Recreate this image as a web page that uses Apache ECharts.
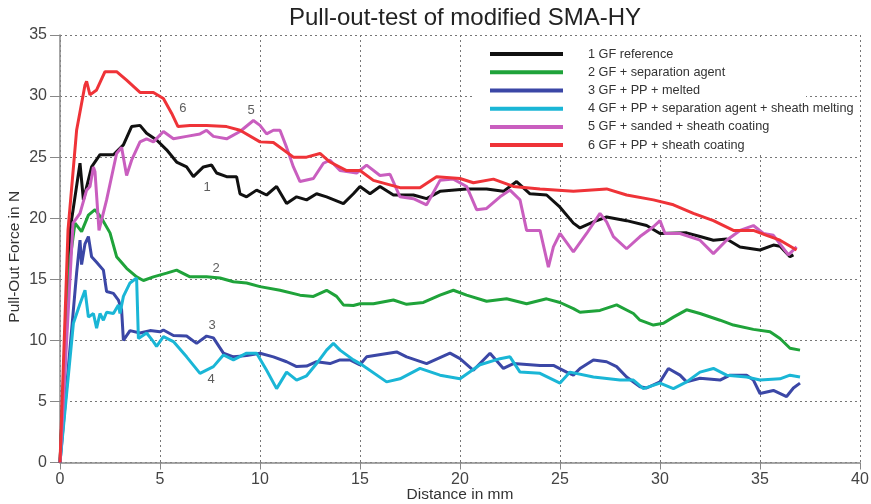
<!DOCTYPE html>
<html>
<head>
<meta charset="utf-8">
<script src="https://cdn.jsdelivr.net/npm/echarts@6/dist/echarts.min.js"></script>
<style>
  html, body { margin: 0; padding: 0; background: #fff; }
  #chart { width: 871px; height: 504px; }
</style>
</head>
<body>
<div id="chart"></div>
<script>
// series names (legend order)
var names = [
  "1 GF reference",
  "2 GF + separation agent",
  "3 GF + PP + melted",
  "4 GF + PP + separation agent + sheath melting",
  "5 GF + sanded + sheath coating",
  "6 GF + PP + sheath coating"
];
var colors = ["#111111", "#1fa33a", "#3b47a6", "#1ab6d6", "#c95ebf", "#ef3338"];

// [distance mm, force N]
var s1 = [[0,0],[0.5,19],[1.0,24.5],[1.17,21.5],[1.58,24.2],[2.0,25.2],[2.67,25.2],[3.17,26.0],[3.58,27.5],[4.0,27.6],
  [4.33,26.95],[4.83,26.4],[5.33,25.6],[5.83,24.6],[6.33,24.2],[6.67,23.4],[7.17,24.2],[7.58,24.35],[7.83,23.7],[8.33,23.4],
  [8.83,23.4],[9.0,22.0],[9.33,21.75],[9.83,22.3],[10.33,21.9],[10.83,22.6],[11.33,21.2],[11.83,21.75],[12.33,21.5],[12.83,22.0],
  [13.33,21.75],[14.17,21.2],[14.67,22.0],[15.0,22.6],[15.5,22.0],[16.0,22.6],[16.67,21.9],[17.67,21.9],[18.33,21.6],[19.0,22.2],
  [20.33,22.4],[21.33,22.4],[22.17,22.2],[22.83,23.0],[23.5,22.0],[24.33,21.9],[25.0,20.9],[25.67,19.6],[26.0,19.2],[26.67,19.7],
  [27.33,20.1],[28.33,19.8],[29.33,19.4],[30.0,18.75],[31.33,18.8],[32.0,18.5],[32.67,18.2],[33.33,18.3],[34.0,17.65],[35.0,17.4],
  [35.67,17.8],[36.0,17.7],[36.5,16.85],[36.67,17.0]];
var s2 = [[0,0],[0.5,16.6],[0.75,19.6],[1.08,18.9],[1.42,20.25],[1.75,20.7],[2.08,20.0],[2.5,18.8],[2.83,16.85],[3.33,15.9],
  [3.83,15.2],[4.17,14.9],[4.67,15.2],[5.33,15.5],[5.83,15.75],[6.5,15.2],[7.33,15.2],[8.0,15.1],[8.67,14.8],[9.33,14.7],
  [10.0,14.4],[11.0,14.1],[12.0,13.7],[12.67,13.6],[13.33,14.1],[13.83,13.6],[14.17,12.9],[14.67,12.85],[15.0,13.0],[15.67,13.0],
  [16.67,13.3],[17.33,12.95],[18.17,13.1],[19.0,13.7],[19.67,14.1],[20.33,13.7],[21.33,13.2],[22.33,13.4],[23.33,13.0],[24.33,13.4],
  [25.0,13.1],[25.67,12.6],[26.0,12.3],[27.0,12.45],[27.83,12.9],[28.67,12.2],[29.0,11.65],[29.67,11.25],[30.17,11.4],[30.67,11.9],
  [31.33,12.5],[32.0,12.2],[33.0,11.65],[33.67,11.25],[34.67,10.9],[35.5,10.7],[36.0,10.15],[36.5,9.35],[37.0,9.2]];
var s3 = [[0,0],[0.83,15.5],[1.0,18.2],[1.08,16.2],[1.25,17.9],[1.42,18.5],[1.58,16.85],[1.83,16.4],[2.17,15.75],[2.33,14.0],
  [2.67,13.85],[2.92,13.3],[3.08,12.5],[3.17,10.0],[3.5,10.8],[4.0,10.6],[4.5,10.8],[5.0,10.7],[5.17,10.85],[5.67,10.4],
  [6.33,10.35],[6.83,9.75],[7.33,10.35],[7.67,10.2],[8.17,8.95],[8.67,8.65],[9.33,8.75],[10.0,8.95],[10.67,8.65],[11.33,8.25],
  [11.83,7.85],[12.33,7.9],[12.83,8.25],[13.5,8.1],[14.0,8.4],[14.5,8.4],[15.0,8.0],[15.33,8.65],[16.83,9.05],[17.33,8.65],
  [18.33,8.1],[19.5,8.95],[20.0,8.5],[20.67,7.55],[21.5,8.95],[22.17,7.7],[22.67,8.1],[24.0,7.95],[24.67,7.95],[25.33,7.4],
  [25.67,7.15],[26.0,7.7],[26.67,8.4],[27.33,8.25],[27.83,7.85],[28.33,7.0],[29.0,6.2],[29.33,6.1],[30.0,6.6],[30.42,7.7],
  [31.0,7.15],[31.33,6.6],[32.0,6.9],[33.0,6.75],[33.5,7.15],[34.33,7.15],[34.67,6.75],[35.0,5.65],[35.67,5.9],[36.33,5.4],
  [36.67,6.1],[37.0,6.5]];
var s4 = [[0,0],[0.67,11.4],[1.0,13.0],[1.25,14.1],[1.42,11.9],[1.67,12.2],[1.83,11.0],[2.0,12.2],[2.17,11.65],[2.33,12.3],
  [2.67,12.2],[2.92,12.9],[3.0,12.2],[3.17,13.6],[3.5,14.7],[3.83,15.1],[3.92,10.15],[4.33,10.6],[4.67,9.9],[4.83,9.5],
  [5.17,10.3],[5.67,9.9],[6.33,8.65],[7.0,7.3],[7.67,7.85],[8.17,8.8],[8.67,8.4],[9.33,8.95],[9.83,8.95],[10.33,7.55],
  [10.83,6.05],[11.33,7.4],[11.83,6.75],[12.33,7.1],[12.83,8.1],[13.33,9.2],[13.67,9.75],[14.0,9.2],[14.67,8.4],[15.0,8.1],
  [16.33,6.6],[17.0,6.85],[18.0,7.7],[19.0,7.15],[20.0,6.85],[21.0,8.0],[22.0,8.5],[22.5,8.65],[23.0,7.4],[24.0,7.3],
  [25.0,6.5],[25.5,7.4],[26.67,7.0],[28.0,6.75],[28.67,6.75],[29.17,6.05],[30.0,6.5],[30.67,6.05],[31.33,6.6],[32.0,7.4],
  [32.67,7.7],[33.33,7.15],[34.33,7.0],[35.0,6.75],[36.0,6.85],[36.5,7.15],[37.0,7.0]];
var s5 = [[0,0],[0.65,19.6],[1.0,20.4],[1.33,22.3],[1.5,22.6],[1.67,24.2],[1.75,23.8],[1.95,19.0],[2.33,21.5],[2.83,25.3],
  [3.08,25.8],[3.33,23.5],[3.58,24.75],[4.0,26.25],[4.33,26.5],[4.67,26.25],[5.17,27.1],[5.67,26.5],[6.33,26.7],[7.0,26.9],
  [7.33,27.2],[7.67,26.7],[8.33,26.5],[9.0,27.1],[9.67,28.0],[10.0,27.6],[10.33,26.9],[10.67,27.2],[11.0,27.2],[11.33,25.8],
  [11.67,24.2],[12.0,23.0],[12.67,23.25],[13.17,24.5],[13.5,24.75],[14.0,23.9],[14.83,23.7],[15.33,24.35],[16.0,23.5],[16.5,23.6],
  [17.0,21.75],[17.67,21.6],[18.33,21.1],[19.0,23.1],[19.67,23.2],[20.33,22.6],[20.83,20.7],[21.33,20.8],[22.0,21.75],[22.5,22.3],
  [23.0,21.5],[23.33,19.0],[24.0,19.0],[24.42,16.0],[24.67,17.65],[25.0,18.75],[25.67,17.25],[26.33,18.75],[27.0,20.4],[27.33,19.7],
  [27.67,18.5],[28.33,17.5],[29.0,18.5],[29.67,19.3],[30.0,19.8],[30.25,18.75],[31.0,18.75],[32.0,18.2],[32.67,17.1],[33.33,18.2],
  [34.0,19.0],[34.67,19.4],[35.17,18.75],[35.67,18.6],[36.0,17.9],[36.42,17.0],[36.83,17.65]];
var s6 = [[0,0],[0.4,19.0],[0.83,27.2],[1.25,30.9],[1.33,31.2],[1.5,30.1],[1.83,30.5],[2.25,32.0],[2.83,32.0],[3.33,31.3],
  [4.0,30.3],[4.67,30.3],[5.17,29.8],[5.58,28.6],[5.9,27.5],[6.5,27.6],[7.33,27.6],[8.33,27.5],[9.0,27.2],[10.0,26.25],
  [10.67,26.2],[11.67,25.0],[12.33,25.0],[13.0,25.3],[13.5,24.6],[14.33,23.9],[15.0,23.9],[15.67,23.1],[17.0,22.5],[18.0,22.5],
  [18.83,23.4],[20.0,23.25],[20.67,22.9],[21.67,23.2],[22.67,22.6],[24.0,22.4],[25.67,22.2],[27.33,22.4],[28.33,21.9],[29.67,21.5],
  [30.67,21.1],[31.67,20.4],[32.67,19.8],[33.67,19.0],[34.67,19.0],[35.33,18.6],[36.0,18.2],[36.83,17.4]];
var curves = [s1, s2, s3, s4, s5, s6];

// curve numbers written next to the lines
var tags = [[7.35,22.5,"1"],[7.8,15.9,"2"],[7.6,11.2,"3"],[7.55,6.8,"4"],[9.55,28.8,"5"],[6.14,29.0,"6"]];

var xTicks = { min: 0, max: 40, step: 5 };
var yTicks = { min: 0, max: 35, step: 5 };

var font = "Arial, 'Liberation Sans', sans-serif";
var chart = echarts.init(document.getElementById("chart"), null, { renderer: "canvas" });

var series = curves.map(function (d, i) {
  return {
    name: names[i], type: "line", data: d, showSymbol: false, symbol: "none",
    lineStyle: { width: 3, color: colors[i] }, itemStyle: { color: colors[i] },
    z: 3, animation: false
  };
});
series.push({
  type: "scatter", symbolSize: 0, silent: true, z: 5,
  data: tags.map(function (t) { return { value: [t[0], t[1]], name: t[2] }; }),
  label: { show: true, position: "inside", formatter: "{b}", color: "#333", fontSize: 13, fontFamily: font }
});

var splitDotted = { show: true, lineStyle: { color: "#777", type: [2, 3], width: 1 } };

chart.setOption({
  backgroundColor: "#fff",
  animation: false,
  title: {
    text: "Pull-out-test of modified SMA-HY", left: 460, top: 1, textAlign: "center",
    textStyle: { fontFamily: font, fontSize: 24, fontWeight: "normal", color: "#222" }
  },
  grid: { left: 60, right: 11, top: 35, bottom: 41.5, outerBoundsMode: "none", containLabel: false },
  graphic: [{
    type: "rect", left: 474, top: 37, z: 1,
    shape: { width: 332, height: 115 }, style: { fill: "#fff" }
  }],
  legend: {
    data: names, orient: "vertical", left: 485, top: 40, itemGap: 0,
    icon: "rect", itemWidth: 73, itemHeight: 4,
    textStyle: { fontFamily: font, fontSize: 12.7, color: "#333", lineHeight: 18.2, padding: [0, 0, 0, 20] },
    selectedMode: false
  },
  xAxis: {
    type: "value", min: xTicks.min, max: xTicks.max, interval: xTicks.step,
    name: "Distance in mm", nameLocation: "middle", nameGap: 24, nameMoveOverlap: false,
    nameTextStyle: { fontFamily: font, fontSize: 15.5, color: "#333" },
    axisLine: { show: true, onZero: false, lineStyle: { color: "#888", width: 1.5 } },
    axisTick: { show: true, length: 7, lineStyle: { color: "#888" } },
    axisLabel: { fontFamily: font, fontSize: 16, color: "#444", margin: 9 },
    splitLine: splitDotted
  },
  yAxis: {
    type: "value", min: yTicks.min, max: yTicks.max, interval: yTicks.step,
    name: "Pull-Out Force in N", nameLocation: "middle", nameGap: 37, nameMoveOverlap: false,
    nameTextStyle: { fontFamily: font, fontSize: 15.5, color: "#333", padding: [0, 16, 0, 0] },
    axisLine: { show: true, onZero: false, lineStyle: { color: "#888", width: 1.5 } },
    axisTick: { show: true, length: 10, lineStyle: { color: "#888" } },
    axisLabel: { fontFamily: font, fontSize: 16, color: "#444", margin: 13 },
    splitLine: splitDotted
  },
  series: series
});
</script>
</body>
</html>
